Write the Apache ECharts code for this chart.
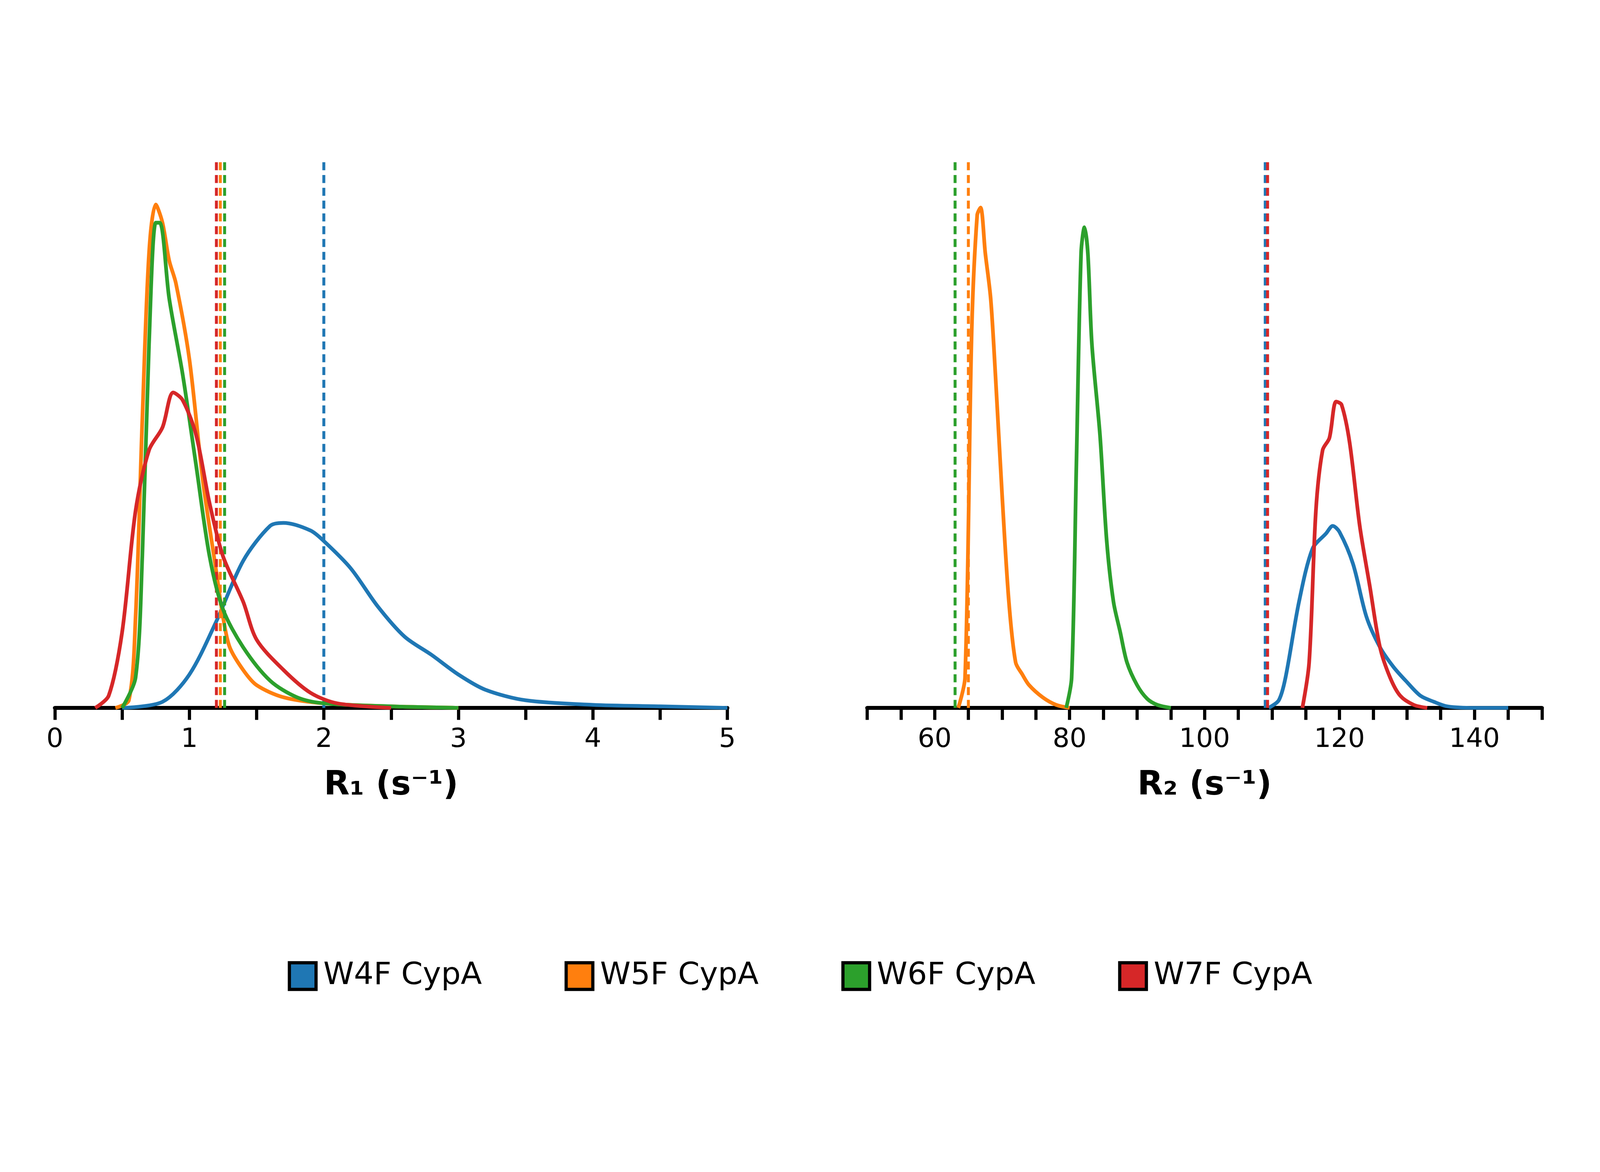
<!DOCTYPE html>
<html>
<head>
<meta charset="utf-8">
<script src="https://cdn.jsdelivr.net/npm/echarts@6/dist/echarts.min.js"></script>
<style>html,body{margin:0;padding:0;background:#fff;overflow:hidden}#chart{width:100vw;height:100vh}</style>
</head>
<body>
<div id="chart"></div>
<script>
// names and colours
var names = ['W4F CypA', 'W5F CypA', 'W6F CypA', 'W7F CypA'];
var colors = ['#1f77b4', '#ff7f0e', '#2ca02c', '#d62728'];

// R1 densities, [x, density]
var r1_w4f = [[0.5,0],[0.8,0.04],[1.0,0.22],[1.2,0.57],[1.4,0.97],[1.6,1.2],[1.7,1.22],[1.9,1.17],[2.0,1.1],[2.2,0.92],[2.4,0.67],[2.6,0.47],[2.8,0.35],[3.0,0.22],[3.2,0.12],[3.5,0.05],[4.0,0.02],[4.5,0.01],[5.0,0]];
var r1_w5f = [[0.45,0],[0.55,0.05],[0.6,0.6],[0.65,1.9],[0.7,3.0],[0.75,3.32],[0.8,3.2],[0.85,2.95],[0.9,2.8],[1.0,2.3],[1.1,1.5],[1.2,0.9],[1.25,0.6],[1.3,0.4],[1.4,0.25],[1.5,0.15],[1.7,0.07],[2.0,0.03],[2.5,0.01],[3.0,0]];
var r1_w6f = [[0.5,0],[0.6,0.2],[0.65,1.0],[0.7,2.4],[0.75,3.2],[0.78,3.2],[0.85,2.7],[0.95,2.2],[1.05,1.6],[1.15,1.0],[1.25,0.65],[1.4,0.4],[1.6,0.18],[1.8,0.07],[2.0,0.03],[2.5,0.01],[3.0,0]];
var r1_w7f = [[0.3,0],[0.4,0.08],[0.5,0.5],[0.6,1.3],[0.7,1.7],[0.8,1.85],[0.88,2.08],[0.95,2.03],[1.05,1.8],[1.15,1.35],[1.25,1.0],[1.4,0.7],[1.5,0.45],[1.7,0.25],[1.9,0.1],[2.1,0.03],[2.5,0]];
var r1_means = [2.0, 1.23, 1.26, 1.2];

// R2 densities
var r2_w4f = [[109.5,0],[111,0.05],[112,0.2],[114,0.7],[116,1.05],[118,1.15],[119,1.2],[120,1.16],[122,0.95],[124,0.6],[126,0.4],[128,0.27],[130,0.17],[132,0.08],[134,0.04],[136,0.01],[140,0],[145,0]];
var r2_w5f = [[63.5,0],[64.5,0.2],[65.5,2.5],[66.3,3.25],[66.8,3.3],[67.5,3.0],[68.3,2.7],[69,2.2],[70,1.4],[71,0.7],[72,0.3],[73,0.22],[74,0.15],[76,0.07],[78,0.02],[80,0]];
var r2_w6f = [[79.5,0],[80.3,0.2],[81,1.6],[81.7,3.0],[82.2,3.17],[82.7,3.0],[83.3,2.4],[84.5,1.8],[85.5,1.1],[86.5,0.7],[87.5,0.5],[88.5,0.3],[90,0.15],[91.5,0.06],[93,0.02],[95,0]];
var r2_w7f = [[114.5,0],[115.5,0.3],[116.5,1.3],[117.5,1.7],[118.5,1.78],[119.5,2.02],[120.3,2.0],[121.5,1.75],[123,1.2],[124.5,0.8],[126,0.4],[127.5,0.2],[129,0.08],[131,0.02],[133,0]];
var r2_means = [109, 65, 63, 109.3];

var r1Data = [r1_w4f, r1_w5f, r1_w6f, r1_w7f];
var r2Data = [r2_w4f, r2_w5f, r2_w6f, r2_w7f];

var el = document.getElementById('chart');
var W = el.clientWidth, H = el.clientHeight;
var s = W / 6000; // scale for sizes

function xAxisOf(idx, min, max, step, title, labelFn) {
    return {
        type: 'value', gridIndex: idx, min: min, max: max, interval: step,
        name: title, nameLocation: 'middle', nameGap: 230 * s,
        nameTextStyle: {fontSize: 125 * s, fontWeight: 'bold', color: '#000', fontFamily: 'DejaVu Sans'},
        axisLine: {lineStyle: {color: '#000', width: 15 * s}},
        axisTick: {length: 45 * s, lineStyle: {color: '#000', width: 12 * s}},
        axisLabel: {fontSize: 100 * s, color: '#000', margin: 70 * s, fontFamily: 'DejaVu Sans', formatter: labelFn},
        splitLine: {show: false}
    };
}

var series = [];
function addSeries(dataList, means, axisIdx) {
    for (var i = 0; i < dataList.length; i++) {
        series.push({
            name: names[i], type: 'line', xAxisIndex: axisIdx, yAxisIndex: axisIdx,
            data: dataList[i], smooth: 0.3, showSymbol: false, z: 3 + i,
            lineStyle: {color: colors[i], width: 14 * s},
            itemStyle: {color: colors[i], borderColor: '#000', borderWidth: 10 * s},
            markLine: {
                silent: true, symbol: 'none', label: {show: false},
                lineStyle: {color: colors[i], width: 11 * s, type: [30 * s, 18 * s]},
                data: [{xAxis: means[i]}]
            }
        });
    }
}
addSeries(r1Data, r1_means, 0);
addSeries(r2Data, r2_means, 1);

var chart = echarts.init(el);
chart.setOption({
    animation: false,
    backgroundColor: '#fff',
    grid: [
        {left: '3.43%', width: '42.03%', top: '13.57%', bottom: '39.6%'},
        {left: '54.2%', right: '3.63%', top: '13.57%', bottom: '39.6%'}
    ],
    xAxis: [
        xAxisOf(0, 0, 5, 0.5, 'R\u2081 (s\u207B\u00B9)', function (v) { return v % 1 === 0 ? v : ''; }),
        xAxisOf(1, 50, 150, 5, 'R\u2082 (s\u207B\u00B9)', function (v) { return (v % 20 === 0 && v >= 60 && v <= 140) ? v : ''; })
    ],
    yAxis: [
        {type: 'value', gridIndex: 0, min: 0, max: 3.62, show: false},
        {type: 'value', gridIndex: 1, min: 0, max: 3.62, show: false}
    ],
    legend: {
        data: names, top: '81.8%', left: 'center', itemGap: 310 * s,
        icon: 'rect', itemWidth: 100 * s, itemHeight: 100 * s,
        itemStyle: {borderColor: '#000', borderWidth: 12 * s},
        textStyle: {fontSize: 116 * s, color: '#000', fontFamily: 'DejaVu Sans', padding: [0, 0, 0, 20 * s]}
    },
    series: series
});
</script>
</body>
</html>
